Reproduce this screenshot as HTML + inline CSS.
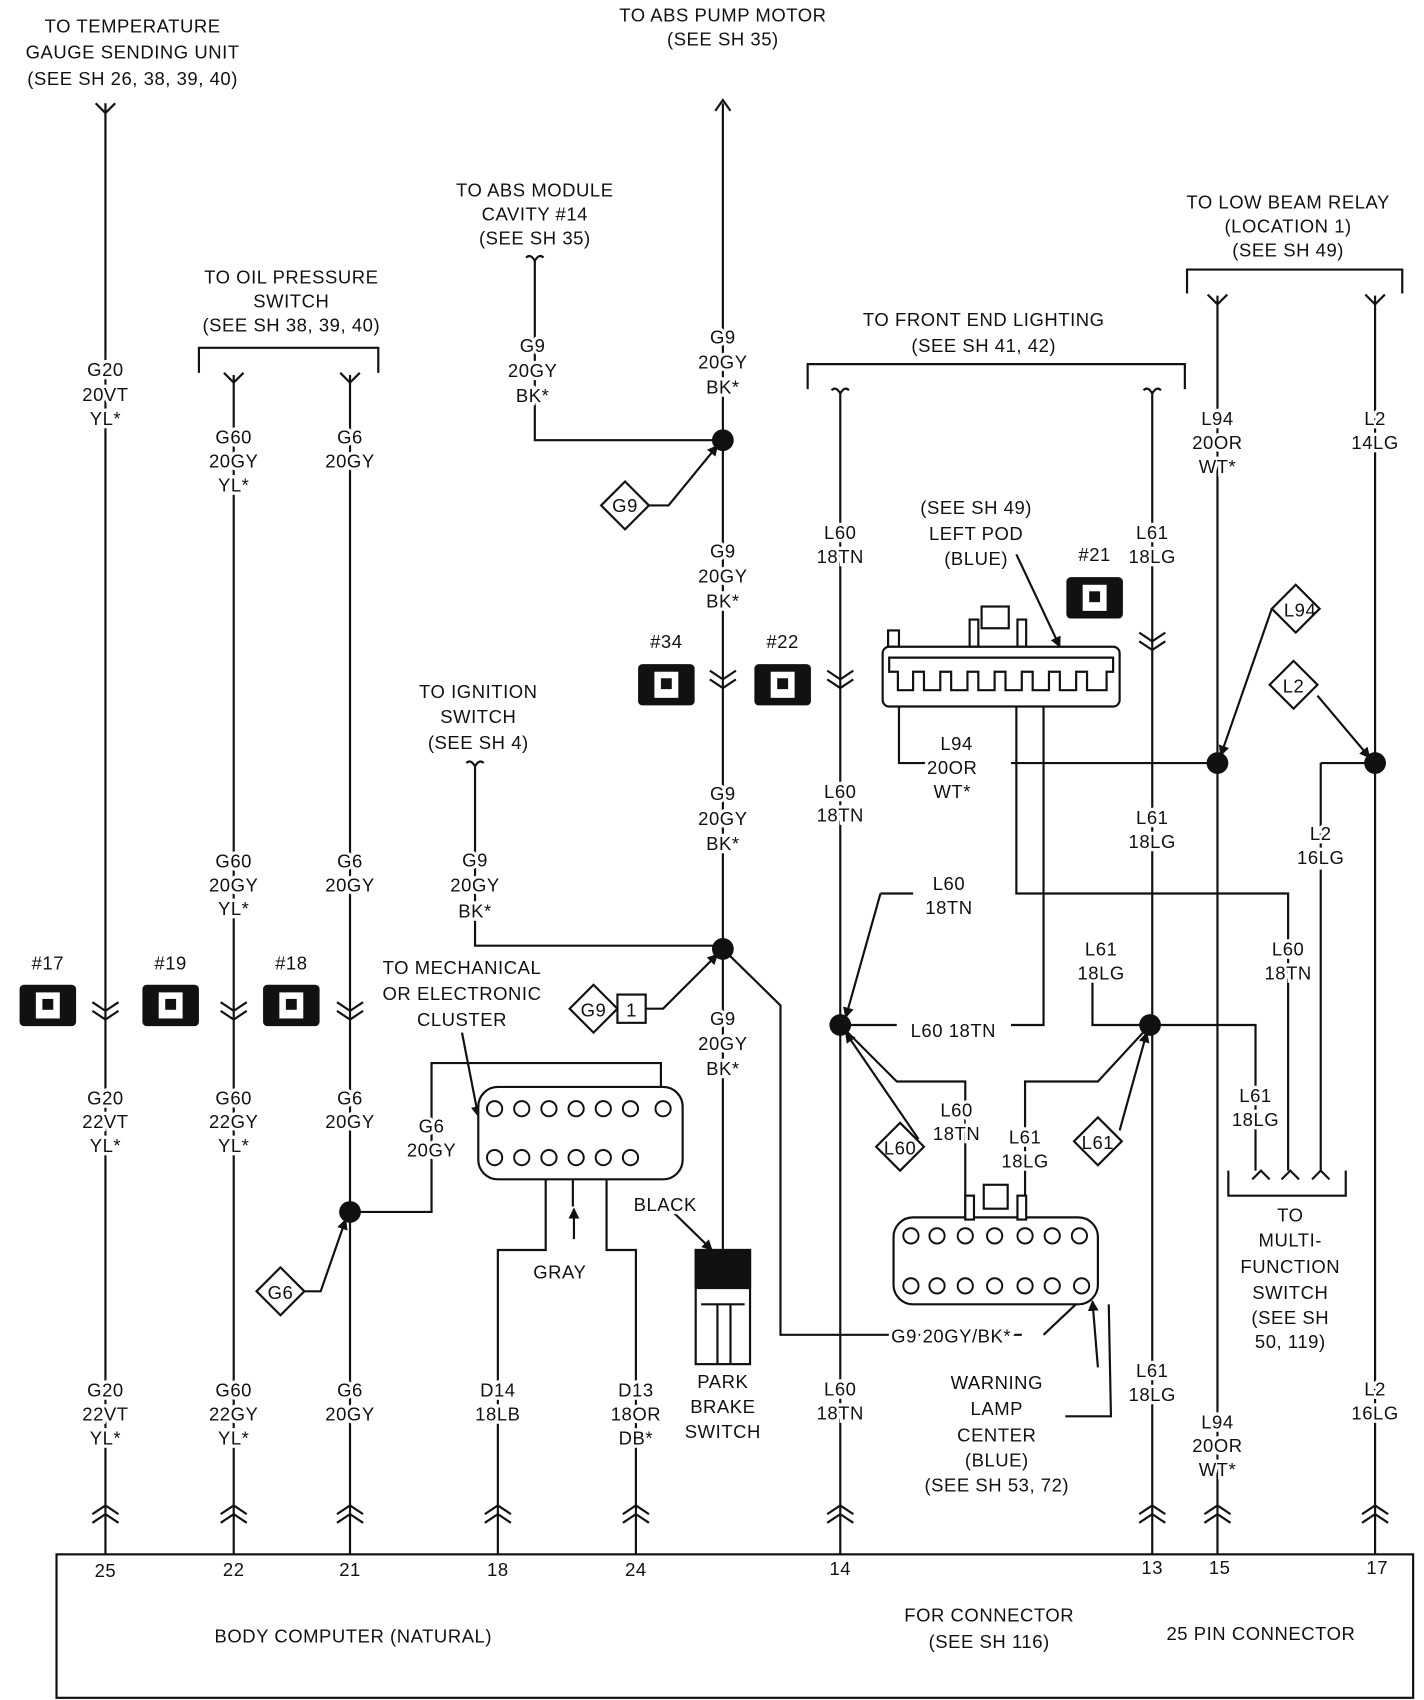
<!DOCTYPE html>
<html><head><style>
html,body{margin:0;padding:0;background:#fff;}
svg{display:block}
text{font-family:"Liberation Sans",sans-serif;font-size:17px;fill:#111;text-anchor:middle;stroke:#fff;stroke-width:6px;paint-order:stroke;letter-spacing:0.5px}
.n{stroke:none}
.l{fill:none;stroke:#111;stroke-width:2}
</style></head><body>
<svg width="1424" height="1700" viewBox="0 0 1310 1564" preserveAspectRatio="none">
<defs>
<marker id="a" markerWidth="10" markerHeight="10" refX="9" refY="5" orient="auto" markerUnits="userSpaceOnUse"><path d="M0,0 L10,5 L0,10 z" fill="#111"/></marker>
<g id="cn"><rect x="-26" y="-19" width="52" height="38" rx="4" fill="#111"/><rect x="-11" y="-12" width="22" height="24" fill="#fff"/><rect x="-5" y="-6" width="10" height="10" fill="#111"/></g>
<path id="dv" class="l" d="M-12,-8 l12,8 l12,-8 M-12,0 l12,8 l12,-8"/>
<path id="uv" class="l" d="M-12,8 l12,-8 l12,8 M-12,16 l12,-8 l12,8"/>
<path id="fk" class="l" d="M-9,-9 L0,0 L9,-9"/>
<path id="fk2" class="l" d="M-8,-6 Q-4,-10 0,-3 Q4,-10 8,-6"/>
</defs>
<g class="l">
<path d="M97,95 V1430 M215,345 V1430 M322,345 V1430 M665,95 V1150 M773,360 V1430 M1060,360 V1430 M1120,272 V1430 M1265,272 V1430"/>
<path d="M658,102 L665,92 L672,102"/>
<path d="M183,343 V320 H348 V343 M743,358 V335 H1090 V358 M1092,270 V248 H1290 V270 M1130,1077 V1100 H1238 V1077"/>
<path d="M492,240 V405 H665"/>
<path d="M437,705 V870 H665"/>
<path d="M665,873 L718,925 V1228 H940 M960,1228 L995,1195"/>
<path d="M322,1115 H397 V978 H608 V1000"/>
<path d="M502,1085 V1150 H458 V1430 M558,1085 V1150 H585 V1430"/>
<path d="M527,1085 V1110"/>
<path d="M827,640 V702 H860 M930,702 H1120"/>
<path d="M935,640 V822 H1185 V1077"/>
<path d="M960,640 V943 H930 M825,943 H773"/>
<path d="M1215,702 H1265 M1215,702 V780 M1215,800 V1077"/>
<path d="M1058,943 H1155 V1077"/>
<path d="M1005,900 V943 H1058"/>
<path d="M773,943 L825,995 H888 V1130 M1058,943 L1010,995 H943 V1130"/>
<path d="M840,822 H810"/>
<path d="M1020,1200 L1022,1303 H980"/>
<path d="M1152,1085 L1160,1077 L1168,1085 M1179,1085 L1187,1077 L1195,1085 M1207,1085 L1215,1077 L1223,1085"/>
<rect x="52" y="1430" width="1248" height="132"/>
</g>
<g class="l" marker-end="url(#a)">
<path d="M597,465 H615 L660,410"/>
<path d="M568,928 H610 L660,878"/>
<path d="M280,1188 H295 L318,1122"/>
<path d="M810,822 L778,936"/>
<path d="M845,1048 L778,950"/>
<path d="M1030,1040 L1055,950"/>
<path d="M1170,560 L1123,695"/>
<path d="M1212,640 L1260,697"/>
<path d="M425,950 L440,1027"/>
<path d="M935,510 L975,595"/>
<path d="M528,1140 L528,1112"/>
<path d="M612,1108 L655,1150"/>
<path d="M1010,1258 L1005,1197"/>
</g>
<g fill="#111"><circle cx="665" cy="405" r="10"/><circle cx="665" cy="873" r="10"/><circle cx="322" cy="1115" r="10"/><circle cx="773" cy="943" r="10"/><circle cx="1058" cy="943" r="10"/><circle cx="1120" cy="702" r="10"/><circle cx="1265" cy="702" r="10"/></g>
<use href="#fk" x="97" y="104"/><use href="#fk" x="215" y="352"/><use href="#fk" x="322" y="352"/>
<use href="#fk2" x="492" y="243"/><use href="#fk2" x="437" y="708"/><use href="#fk2" x="773" y="365"/><use href="#fk2" x="1060" y="365"/>
<use href="#fk" x="1120" y="280"/><use href="#fk" x="1265" y="280"/>
<use href="#dv" x="97" y="930"/><use href="#dv" x="215" y="930"/><use href="#dv" x="322" y="930"/><use href="#dv" x="665" y="625"/><use href="#dv" x="773" y="625"/><use href="#dv" x="1060" y="590"/>
<g><use href="#uv" x="97" y="1385"/><use href="#uv" x="215" y="1385"/><use href="#uv" x="322" y="1385"/><use href="#uv" x="458" y="1385"/><use href="#uv" x="585" y="1385"/><use href="#uv" x="773" y="1385"/><use href="#uv" x="1060" y="1385"/><use href="#uv" x="1120" y="1385"/><use href="#uv" x="1265" y="1385"/></g>
<use href="#cn" x="44" y="925"/><use href="#cn" x="157" y="925"/><use href="#cn" x="268" y="925"/><use href="#cn" x="613" y="630"/><use href="#cn" x="720" y="630"/><use href="#cn" x="1007" y="550"/>
<g class="l" style="fill:#fff">
<path d="M575,443 L597,465 L575,487 L553,465 z"/>
<path d="M546,906 L568,928 L546,950 L524,928 z"/><rect x="568" y="915" width="26" height="26"/>
<path d="M258,1166 L280,1188 L258,1210 L236,1188 z"/>
<path d="M828,1033 L850,1055 L828,1077 L806,1055 z"/>
<path d="M1010,1028 L1032,1050 L1010,1072 L988,1050 z"/>
<path d="M1192,538 L1214,560 L1192,582 L1170,560 z"/>
<path d="M1190,608 L1212,630 L1190,652 L1168,630 z"/>
</g>
<g class="l" style="fill:#fff">
<rect x="817" y="580" width="10" height="15"/><rect x="903" y="558" width="25" height="20"/><rect x="892" y="570" width="8" height="25"/><rect x="936" y="570" width="8" height="25"/>
<rect x="812" y="595" width="218" height="55" rx="6"/>
<path d="M818,605 H1024 V618 H1018 V635 H1000 V618 H990 V635 H975 V618 H965 V635 H950 V618 H940 V635 H925 V618 H915 V635 H900 V618 H890 V635 H875 V618 H865 V635 H850 V618 H840 V635 H826 V618 H818 z"/>
<rect x="822" y="1120" width="188" height="80" rx="18"/>
<rect x="888" y="1100" width="8" height="22"/><rect x="936" y="1100" width="8" height="22"/><rect x="905" y="1090" width="22" height="22"/>
<rect x="440" y="1000" width="188" height="85" rx="18"/>
<rect x="640" y="1150" width="50" height="105"/>
</g>
<g class="l"><path d="M640,1165 H690 M640,1180 H690 M645,1200 H685 M660,1200 V1255 M672,1200 V1255"/><rect x="640" y="1150" width="50" height="35" fill="#111"/></g>
<g class="l" style="fill:#fff;stroke-width:1.8">
<circle cx="455" cy="1020" r="7"/><circle cx="480" cy="1020" r="7"/><circle cx="505" cy="1020" r="7"/><circle cx="530" cy="1020" r="7"/><circle cx="555" cy="1020" r="7"/><circle cx="580" cy="1020" r="7"/><circle cx="610" cy="1020" r="7"/>
<circle cx="455" cy="1065" r="7"/><circle cx="480" cy="1065" r="7"/><circle cx="505" cy="1065" r="7"/><circle cx="530" cy="1065" r="7"/><circle cx="555" cy="1065" r="7"/><circle cx="580" cy="1065" r="7"/>
<circle cx="838" cy="1137" r="7"/><circle cx="862" cy="1137" r="7"/><circle cx="888" cy="1137" r="7"/><circle cx="915" cy="1137" r="7"/><circle cx="943" cy="1137" r="7"/><circle cx="968" cy="1137" r="7"/><circle cx="993" cy="1137" r="7"/>
<circle cx="838" cy="1183" r="7"/><circle cx="862" cy="1183" r="7"/><circle cx="888" cy="1183" r="7"/><circle cx="915" cy="1183" r="7"/><circle cx="943" cy="1183" r="7"/><circle cx="968" cy="1183" r="7"/><circle cx="995" cy="1183" r="7"/>
</g>
<text x="122" y="30">TO TEMPERATURE</text><text x="122" y="54">GAUGE SENDING UNIT</text><text x="122" y="78">(SEE SH 26, 38, 39, 40)</text>
<text x="665" y="20">TO ABS PUMP MOTOR</text><text x="665" y="42">(SEE SH 35)</text>
<text x="492" y="181">TO ABS MODULE</text><text x="492" y="203">CAVITY #14</text><text x="492" y="225">(SEE SH 35)</text>
<text x="1185" y="192">TO LOW BEAM RELAY</text><text x="1185" y="214">(LOCATION 1)</text><text x="1185" y="236">(SEE SH 49)</text>
<text x="268" y="261">TO OIL PRESSURE</text><text x="268" y="283">SWITCH</text><text x="268" y="305">(SEE SH 38, 39, 40)</text>
<text x="905" y="300">TO FRONT END LIGHTING</text><text x="905" y="324">(SEE SH 41, 42)</text>
<text x="97" y="346">G20</text><text x="97" y="369">20VT</text><text x="97" y="391">YL*</text>
<text x="215" y="408">G60</text><text x="215" y="430">20GY</text><text x="215" y="452">YL*</text>
<text x="322" y="408">G6</text><text x="322" y="430">20GY</text>
<text x="490" y="324">G9</text><text x="490" y="347">20GY</text><text x="490" y="370">BK*</text>
<text x="665" y="316">G9</text><text x="665" y="339">20GY</text><text x="665" y="362">BK*</text>
<text x="1120" y="391">L94</text><text x="1120" y="413">20OR</text><text x="1120" y="435">WT*</text>
<text x="1265" y="391">L2</text><text x="1265" y="413">14LG</text>
<text class="n" x="575" y="471">G9</text>
<text x="898" y="473">(SEE SH 49)</text><text x="898" y="497">LEFT POD</text><text x="898" y="520">(BLUE)</text>
<text x="1007" y="516">#21</text>
<text x="665" y="513">G9</text><text x="665" y="536">20GY</text><text x="665" y="559">BK*</text>
<text x="773" y="496">L60</text><text x="773" y="518">18TN</text>
<text x="1060" y="496">L61</text><text x="1060" y="518">18LG</text>
<text class="n" x="1196" y="567">L94</text><text class="n" x="1190" y="637">L2</text>
<text x="613" y="596">#34</text><text x="720" y="596">#22</text>
<text x="440" y="642">TO IGNITION</text><text x="440" y="665">SWITCH</text><text x="440" y="689">(SEE SH 4)</text>
<text x="880" y="690">L94</text><text x="876" y="712">20OR</text><text x="876" y="734">WT*</text>
<text x="665" y="736">G9</text><text x="665" y="759">20GY</text><text x="665" y="782">BK*</text>
<text x="773" y="734">L60</text><text x="773" y="756">18TN</text>
<text x="1060" y="758">L61</text><text x="1060" y="780">18LG</text>
<text x="1215" y="773">L2</text><text x="1215" y="795">16LG</text>
<text x="215" y="798">G60</text><text x="215" y="820">20GY</text><text x="215" y="842">YL*</text>
<text x="322" y="798">G6</text><text x="322" y="820">20GY</text>
<text x="437" y="797">G9</text><text x="437" y="820">20GY</text><text x="437" y="844">BK*</text>
<text x="873" y="819">L60</text><text x="873" y="841">18TN</text>
<text x="1013" y="879">L61</text><text x="1013" y="901">18LG</text>
<text x="1185" y="879">L60</text><text x="1185" y="901">18TN</text>
<text x="44" y="892">#17</text><text x="157" y="892">#19</text><text x="268" y="892">#18</text>
<text x="425" y="896">TO MECHANICAL</text><text x="425" y="920">OR ELECTRONIC</text><text x="425" y="944">CLUSTER</text>
<text class="n" x="546" y="935">G9</text><text class="n" x="581" y="935">1</text>
<text x="665" y="943">G9</text><text x="665" y="966">20GY</text><text x="665" y="989">BK*</text>
<text x="877" y="954">L60 18TN</text>
<text x="97" y="1016">G20</text><text x="97" y="1038">22VT</text><text x="97" y="1060">YL*</text>
<text x="215" y="1016">G60</text><text x="215" y="1038">22GY</text><text x="215" y="1060">YL*</text>
<text x="322" y="1016">G6</text><text x="322" y="1038">20GY</text>
<text x="397" y="1042">G6</text><text x="397" y="1064">20GY</text>
<text x="1155" y="1014">L61</text><text x="1155" y="1036">18LG</text>
<text x="880" y="1027">L60</text><text x="880" y="1049">18TN</text>
<text x="943" y="1052">L61</text><text x="943" y="1074">18LG</text>
<text class="n" x="828" y="1062">L60</text><text class="n" x="1010" y="1057">L61</text>
<text x="612" y="1114">BLACK</text>
<text x="515" y="1176">GRAY</text>
<text class="n" x="258" y="1195">G6</text>
<text x="1187" y="1124">TO</text><text x="1187" y="1147">MULTI-</text><text x="1187" y="1171">FUNCTION</text><text x="1187" y="1195">SWITCH</text><text x="1187" y="1218">(SEE SH</text><text x="1187" y="1240">50, 119)</text>
<text x="875" y="1235">G9 20GY/BK*</text>
<text x="917" y="1278">WARNING</text><text x="917" y="1302">LAMP</text><text x="917" y="1326">CENTER</text><text x="917" y="1349">(BLUE)</text><text x="917" y="1372">(SEE SH 53, 72)</text>
<text x="665" y="1277">PARK</text><text x="665" y="1300">BRAKE</text><text x="665" y="1323">SWITCH</text>
<text x="97" y="1285">G20</text><text x="97" y="1307">22VT</text><text x="97" y="1329">YL*</text>
<text x="215" y="1285">G60</text><text x="215" y="1307">22GY</text><text x="215" y="1329">YL*</text>
<text x="322" y="1285">G6</text><text x="322" y="1307">20GY</text>
<text x="458" y="1285">D14</text><text x="458" y="1307">18LB</text>
<text x="585" y="1285">D13</text><text x="585" y="1307">18OR</text><text x="585" y="1329">DB*</text>
<text x="773" y="1284">L60</text><text x="773" y="1306">18TN</text>
<text x="1060" y="1267">L61</text><text x="1060" y="1289">18LG</text>
<text x="1120" y="1314">L94</text><text x="1120" y="1336">20OR</text><text x="1120" y="1358">WT*</text>
<text x="1265" y="1284">L2</text><text x="1265" y="1306">16LG</text>
<text class="n" x="97" y="1451">25</text><text class="n" x="215" y="1450">22</text><text class="n" x="322" y="1450">21</text><text class="n" x="458" y="1450">18</text><text class="n" x="585" y="1450">24</text><text class="n" x="773" y="1449">14</text><text class="n" x="1060" y="1448">13</text><text class="n" x="1122" y="1448">15</text><text class="n" x="1267" y="1448">17</text>
<text class="n" x="325" y="1511">BODY COMPUTER (NATURAL)</text>
<text class="n" x="910" y="1492">FOR CONNECTOR</text><text class="n" x="910" y="1516">(SEE SH 116)</text>
<text class="n" x="1160" y="1509">25 PIN CONNECTOR</text>
</svg>
</body></html>
